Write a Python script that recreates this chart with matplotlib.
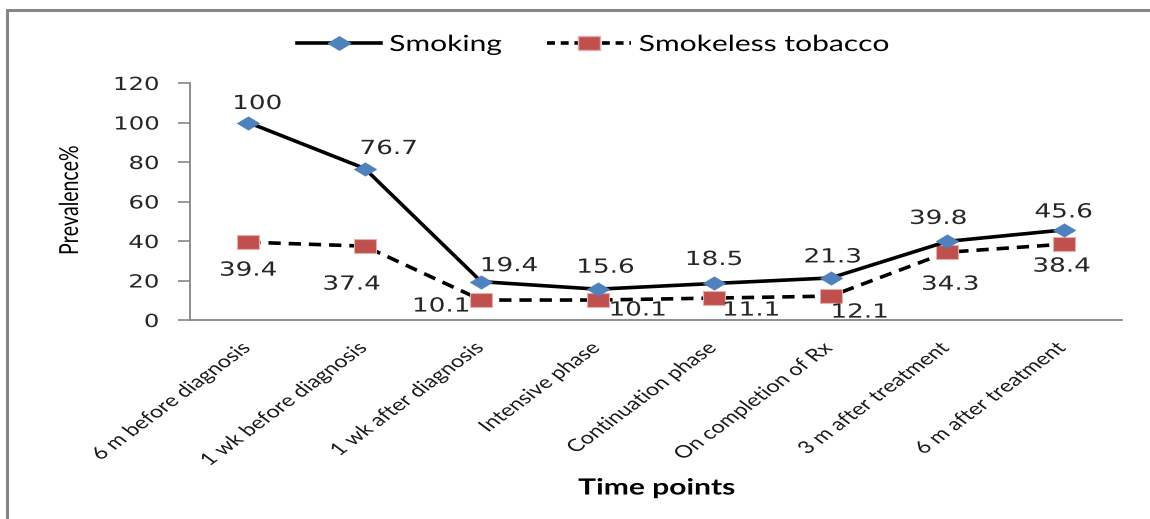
import matplotlib
matplotlib.use("Agg")
import numpy as np
import matplotlib.pyplot as plt
from matplotlib.patches import Rectangle
from matplotlib.lines import Line2D
from matplotlib.patheffects import AbstractPathEffect
from matplotlib.transforms import Affine2D, ScaledTranslation
from matplotlib.path import Path

# --- data ---
time_points = [
    "6 m before diagnosis",
    "1 wk before diagnosis",
    "1 wk after diagnosis",
    "Intensive phase",
    "Continuation phase",
    "On completion of Rx",
    "3 m after treatment",
    "6 m after treatment",
]
smoking = [100, 76.7, 19.4, 15.6, 18.5, 21.3, 39.8, 45.6]
smokeless = [39.4, 37.4, 10.1, 10.1, 11.1, 12.1, 34.3, 38.4]
y_ticks = [0, 20, 40, 60, 80, 100, 120]

# value-label offsets in pixels (dx, dy) from each marker
smoking_label_offsets = [(9, 19), (24, 20), (28, 16), (8, 22), (0, 24), (2, 21), (-9, 23), (0, 18)]
smokeless_label_offsets = [(0, -28), (-13, -38), (-40, -6), (40, -10), (37, -12), (29, -16), (3, -32), (-2, -22)]

W, H = 1150, 519
DPI = 100
SX = 1.35  # horizontal widening applied to all text glyphs


class WidenX(AbstractPathEffect):
    """Draw text widened horizontally (in display space) about an anchor."""

    def __init__(self, sx, anchor="center"):
        super().__init__()
        self.sx = sx
        self.anchor = anchor

    def draw_path(self, renderer, gc, tpath, affine, rgbFace=None):
        verts = tpath.vertices
        if tpath.codes is not None:
            verts = verts[tpath.codes != Path.CLOSEPOLY]
        if len(verts) == 0:
            renderer.draw_path(gc, tpath, affine, rgbFace)
            return
        xs = affine.transform(verts)[:, 0]
        if self.anchor == "right":
            cx = xs.max()
        elif self.anchor == "left":
            cx = xs.min()
        else:
            cx = 0.5 * (xs.min() + xs.max())
        post = Affine2D().translate(-cx, 0).scale(self.sx, 1).translate(cx, 0)
        renderer.draw_path(gc, tpath, affine + post, rgbFace)


def widen(text, anchor="center"):
    text.set_path_effects([WidenX(SX, anchor)])
    return text


fig = plt.figure(figsize=(W / DPI, H / DPI), dpi=DPI)
fig.patch.set_facecolor("white")

# outer chart frame (top and left edges visible)
fig.patches.append(Rectangle((7 / W, -0.2), 1.5, (H - 10) / H + 0.2,
                             transform=fig.transFigure, fill=False,
                             edgecolor="#868686", linewidth=2.2, zorder=0))

ax_left, ax_right = 190, 1122
ax_bottom, ax_top = 320, 83
ax = fig.add_axes([ax_left / W, (H - ax_bottom) / H,
                   (ax_right - ax_left) / W, (ax_bottom - ax_top) / H])

x = np.arange(len(time_points))

diamond = [(-1, 0), (0, 0.6), (1, 0), (0, -0.6), (-1, 0)]
rect = [(-1, -0.65), (1, -0.65), (1, 0.65), (-1, 0.65), (-1, -0.65)]

ax.plot(x, smoking, color="black", linewidth=2.6, marker=diamond,
        markersize=16, markerfacecolor="#4F81BD", markeredgecolor="#4F81BD",
        markeredgewidth=0.5, zorder=4, solid_joinstyle="miter")
ax.plot(x, smokeless, color="black", linewidth=2.6, dashes=(3.4, 2.2),
        marker=rect, markersize=16.5, markerfacecolor="#C0504D",
        markeredgecolor="#E6B0AE", markeredgewidth=0.8, zorder=3)

label_font = dict(family="DejaVu Sans", fontsize=14, color="#262626")
for series, offsets in ((smoking, smoking_label_offsets),
                        (smokeless, smokeless_label_offsets)):
    for xi, v, (dx, dy) in zip(x, series, offsets):
        t = ax.annotate(f"{v:g}", (xi, v), xytext=(dx * 0.72, dy * 0.72),
                        textcoords="offset points", ha="center", va="center",
                        zorder=6, **label_font)
        widen(t)

ax.set_xlim(-0.5, len(time_points) - 0.5)
ax.set_ylim(0, 120)
ax.set_yticks(y_ticks)
ax.set_yticklabels([str(t) for t in y_ticks], family="DejaVu Sans",
                   fontsize=13, color="#262626")
ax.tick_params(axis="y", length=8.5, width=1.2, color="#868686", pad=14)
ax.set_xticks(x)
ax.set_xticklabels(time_points, rotation=45, ha="right",
                   rotation_mode="anchor", family="Lato", fontsize=12.5,
                   color="#1a1a1a")
ax.tick_params(axis="x", length=0, pad=14)
for t in ax.get_yticklabels():
    widen(t, "right")
shift_left = ScaledTranslation(-6 / DPI, 0, fig.dpi_scale_trans)
for t in ax.get_xticklabels():
    t.set_transform(t.get_transform() + shift_left)
    widen(t, "right")

for side in ("top", "right"):
    ax.spines[side].set_visible(False)
for side in ("left", "bottom"):
    ax.spines[side].set_color("#868686")
    ax.spines[side].set_linewidth(1.3)

widen(fig.text(70 / W, (H - 200) / H, "Prevalence%", rotation=90, ha="center",
               va="center", family="Lato", fontsize=14, color="black"))
widen(fig.text(657 / W, (H - 488) / H, "Time points", ha="center", va="center",
               family="Lato", fontsize=16, fontweight="bold", color="black"))

handles = [
    Line2D([], [], color="black", linewidth=2.6, marker=diamond, markersize=16,
           markerfacecolor="#4F81BD", markeredgecolor="#4F81BD"),
    Line2D([], [], color="black", linewidth=2.6, dashes=(2.2, 1.6), marker=rect,
           markersize=16.5, markerfacecolor="#C0504D", markeredgecolor="#E6B0AE"),
]
leg = fig.legend(handles, ["Smoking", "Smokeless tobacco"], loc="center left",
                 bbox_to_anchor=(297 / W, (H - 45) / H), ncol=2, frameon=False,
                 prop=dict(family="Lato", size=16), handlelength=3.8,
                 handletextpad=0.36, columnspacing=3.3, borderpad=0,
                 borderaxespad=0)
for t in leg.get_texts():
    widen(t, "left")

fig.savefig("out.png", dpi=DPI)
